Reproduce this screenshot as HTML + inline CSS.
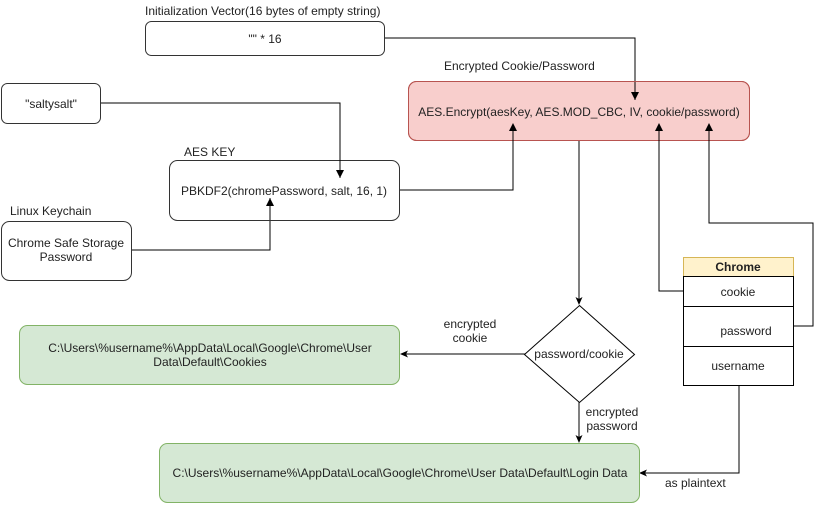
<!DOCTYPE html>
<html><head><meta charset="utf-8"><style>
html,body{margin:0;padding:0;background:#fff;width:822px;height:505px;overflow:hidden}
svg text{font-family:"Liberation Sans",Arial,sans-serif;font-size:12px;fill:#222}
</style></head><body>
<svg width="822" height="505" viewBox="0 0 822 505" xmlns="http://www.w3.org/2000/svg">
<defs><marker id="a" markerWidth="8" markerHeight="8" refX="7" refY="4" orient="auto" markerUnits="userSpaceOnUse"><path d="M0,0.5 L8,4 L0,7.5 L2,4 Z" fill="#000"/></marker></defs>
<g fill="none" stroke="#000" stroke-width="1" marker-end="url(#a)">
<polyline points="384,38 635,38 635,100"/>
<polyline points="100,103 340,103 340,178"/>
<polyline points="131,250 270,250 270,197"/>
<polyline points="399,190 513,190 513,123"/>
<polyline points="579,141 579,304"/>
<polyline points="683,291 659,291 659,123"/>
<polyline points="793,326 813,326 813,223 709,223 709,123"/>
<polyline points="525,354 401,354"/>
<polyline points="579,402 579,442"/>
<polyline points="739,386 739,473 640,473"/>
</g>
<rect x="145.5" y="21.5" width="239" height="34" rx="6" fill="#fff" stroke="#333"/>
<text x="145" y="15">Initialization Vector(16 bytes of empty string)</text>
<text x="265" y="43" text-anchor="middle">"" * 16</text>
<rect x="1.5" y="83.5" width="99" height="40" rx="6" fill="#fff" stroke="#333"/>
<text x="51" y="108" text-anchor="middle">"saltysalt"</text>
<rect x="408.5" y="81.5" width="341" height="59" rx="8" fill="#f8cecc" stroke="#b85450"/>
<text x="444" y="70">Encrypted Cookie/Password</text>
<rect x="408.5" y="81.5" width="341" height="59" rx="8" fill="none" stroke="#b85450"/>
<text x="579" y="116" text-anchor="middle">AES.Encrypt(aesKey, AES.MOD_CBC, IV, cookie/password)</text>
<line x1="635" y1="82" x2="635" y2="100" stroke="#000"/><path d="M631,92 L635,100 L639,92 Z" fill="#000"/>
<g stroke="#000"><line x1="513" y1="141" x2="513" y2="124"/><line x1="659" y1="141" x2="659" y2="124"/><line x1="709" y1="141" x2="709" y2="124"/></g>
<g fill="#000"><path d="M509,131 L513,123 L517,131 Z"/><path d="M655,131 L659,123 L663,131 Z"/><path d="M705,131 L709,123 L713,131 Z"/></g>
<rect x="169.5" y="160.5" width="230" height="60" rx="8" fill="#fff" stroke="#333"/>
<text x="184" y="156">AES KEY</text>
<line x1="340" y1="160" x2="340" y2="178" stroke="#000"/><path d="M336,170 L340,178 L344,170 Z" fill="#000"/>
<line x1="270" y1="220" x2="270" y2="198" stroke="#000"/><path d="M266,206 L270,198 L274,206 Z" fill="#000"/>
<text x="284" y="195" text-anchor="middle">PBKDF2(chromePassword, salt, 16, 1)</text>
<text x="10" y="215">Linux Keychain</text>
<rect x="1.5" y="221.5" width="130" height="59" rx="8" fill="#fff" stroke="#333"/>
<text x="66" y="247" text-anchor="middle">Chrome Safe Storage</text>
<text x="66" y="261" text-anchor="middle">Password</text>
<polygon points="579.5,305.5 634.5,354.5 579.5,402.5 524.5,354.5" fill="#fff" stroke="#000"/>
<text x="579" y="358" text-anchor="middle">password/cookie</text>
<rect x="440" y="315" width="60" height="30" fill="#fff"/>
<text x="470" y="328" text-anchor="middle">encrypted</text>
<text x="470" y="342" text-anchor="middle">cookie</text>
<text x="612" y="416" text-anchor="middle">encrypted</text>
<text x="612" y="430" text-anchor="middle">password</text>
<rect x="19.5" y="325.5" width="380" height="59" rx="8" fill="#d5e8d4" stroke="#82b366"/>
<text x="210" y="352" text-anchor="middle">C:\Users\%username%\AppData\Local\Google\Chrome\User</text>
<text x="210" y="366" text-anchor="middle">Data\Default\Cookies</text>
<rect x="159.5" y="443.5" width="480" height="59" rx="8" fill="#d5e8d4" stroke="#82b366"/>
<text x="400" y="477" text-anchor="middle">C:\Users\%username%\AppData\Local\Google\Chrome\User Data\Default\Login Data</text>
<text x="665" y="487">as plaintext</text>
<rect x="683.5" y="257.5" width="110" height="19" fill="#fff2cc" stroke="#d6b656"/>
<text x="738" y="271" text-anchor="middle" style="font-weight:bold">Chrome</text>
<rect x="683.5" y="276.5" width="110" height="109" fill="#fff" stroke="#000"/>
<line x1="683" y1="306.5" x2="793" y2="306.5" stroke="#000"/>
<line x1="683" y1="346.5" x2="793" y2="346.5" stroke="#000"/>
<text x="738" y="296" text-anchor="middle">cookie</text>
<text x="746" y="335" text-anchor="middle">password</text>
<text x="738" y="370" text-anchor="middle">username</text>
</svg>
</body></html>
